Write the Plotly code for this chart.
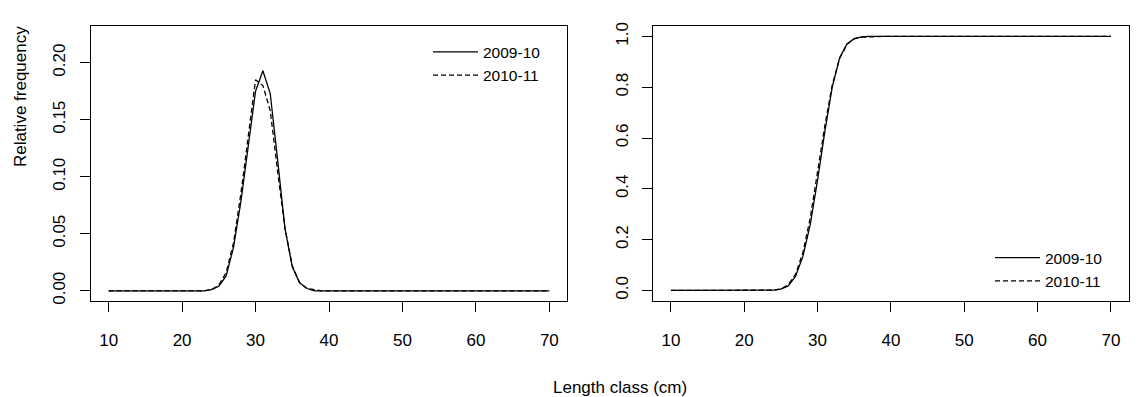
import plotly.graph_objects as go

# ---------------- data ----------------
lengths = list(range(10, 71))

freq_2009_10 = [
    0, 0, 0, 0, 0, 0, 0, 0, 0, 0, 0, 0, 0, 0,          # 10-23
    0.001, 0.004, 0.013, 0.038, 0.078, 0.125, 0.175,    # 24-30
    0.193, 0.173, 0.115, 0.055, 0.021, 0.007, 0.002,    # 31-37
    0, 0, 0, 0, 0, 0, 0, 0, 0, 0, 0, 0, 0, 0, 0, 0,    # 38-53
    0, 0, 0, 0, 0, 0, 0, 0, 0, 0, 0, 0, 0, 0, 0, 0, 0, # 54-70
]
freq_2010_11 = [
    0, 0, 0, 0, 0, 0, 0, 0, 0, 0, 0, 0, 0, 0,          # 10-23
    0.001, 0.005, 0.016, 0.042, 0.085, 0.136, 0.185,    # 24-30
    0.180, 0.158, 0.105, 0.055, 0.022, 0.007, 0.002,    # 31-37
    0.001, 0, 0, 0, 0, 0, 0, 0, 0, 0, 0, 0, 0, 0, 0, 0,  # 38-53
    0, 0, 0, 0, 0, 0, 0, 0, 0, 0, 0, 0, 0, 0, 0, 0, 0,   # 54-70
]
cum_2009_10 = [
    0, 0, 0, 0, 0, 0, 0, 0, 0, 0, 0, 0, 0, 0,          # 10-23
    0.001, 0.005, 0.018, 0.056, 0.134, 0.259, 0.434,    # 24-30
    0.627, 0.800, 0.915, 0.970, 0.991, 0.998, 1.0,      # 31-37
    1, 1, 1, 1, 1, 1, 1, 1, 1, 1, 1, 1, 1, 1, 1, 1,    # 38-53
    1, 1, 1, 1, 1, 1, 1, 1, 1, 1, 1, 1, 1, 1, 1, 1, 1, # 54-70
]
cum_2010_11 = [
    0, 0, 0, 0, 0, 0, 0, 0, 0, 0, 0, 0, 0, 0,          # 10-23
    0.001, 0.006, 0.022, 0.064, 0.149, 0.285, 0.470,    # 24-30
    0.650, 0.808, 0.913, 0.968, 0.990, 0.997, 0.999,    # 31-37
    1, 1, 1, 1, 1, 1, 1, 1, 1, 1, 1, 1, 1, 1, 1, 1,    # 38-53
    1, 1, 1, 1, 1, 1, 1, 1, 1, 1, 1, 1, 1, 1, 1, 1, 1, # 54-70
]
series_names = ["2009-10", "2010-11"]
x_ticks = [10, 20, 30, 40, 50, 60, 70]
y1_ticks = [0.0, 0.05, 0.10, 0.15, 0.20]
y1_labels = ["0.00", "0.05", "0.10", "0.15", "0.20"]
y2_ticks = [0.0, 0.2, 0.4, 0.6, 0.8, 1.0]
y2_labels = ["0.0", "0.2", "0.4", "0.6", "0.8", "1.0"]

# ---------------- figure ----------------
W, H = 1139, 397
FONT = "Liberation Sans, Arial, sans-serif"
TICK_SIZE = 17
LEG_SIZE = 15.5
DASH = "5px,3px"
LW = 1.3

fig = go.Figure()

fig.add_trace(go.Scatter(x=lengths, y=freq_2009_10, mode="lines", name=series_names[0],
                         line=dict(color="black", width=LW), xaxis="x", yaxis="y", legend="legend"))
fig.add_trace(go.Scatter(x=lengths, y=freq_2010_11, mode="lines", name=series_names[1],
                         line=dict(color="black", width=LW, dash=DASH), xaxis="x", yaxis="y", legend="legend"))
fig.add_trace(go.Scatter(x=lengths, y=cum_2009_10, mode="lines", name=series_names[0],
                         line=dict(color="black", width=LW), xaxis="x2", yaxis="y2", legend="legend2"))
fig.add_trace(go.Scatter(x=lengths, y=cum_2010_11, mode="lines", name=series_names[1],
                         line=dict(color="black", width=LW, dash=DASH), xaxis="x2", yaxis="y2", legend="legend2"))

ydom = [(H - 302.7) / H, (H - 22.7) / H]

axis_common = dict(showgrid=False, zeroline=False, showline=True, mirror=True,
                   linecolor="black", linewidth=1, ticks="outside", ticklen=10,
                   tickcolor="black", tickwidth=1,
                   tickfont=dict(family=FONT, size=TICK_SIZE, color="black"))

fig.update_layout(
    width=W, height=H,
    margin=dict(l=0, r=0, t=0, b=0),
    paper_bgcolor="white", plot_bgcolor="white",
    font=dict(family=FONT, color="black"),
    xaxis=dict(domain=[91 / W, 567 / W], range=[7.6, 72.4], tickvals=x_ticks,
               anchor="y", ticklabelstandoff=14, **axis_common),
    yaxis=dict(domain=ydom, range=[-0.0086, 0.232], tickvals=y1_ticks, ticktext=y1_labels,
               tickangle=-90, anchor="x", ticklabelstandoff=8, **axis_common),
    xaxis2=dict(domain=[653.3 / W, 1128.5 / W], range=[7.6, 72.4], tickvals=x_ticks,
                anchor="y2", ticklabelstandoff=14, **axis_common),
    yaxis2=dict(domain=ydom, range=[-0.04, 1.04], tickvals=y2_ticks, ticktext=y2_labels,
                tickangle=-90, anchor="x2", ticklabelstandoff=8, **axis_common),
    legend=dict(x=428 / W, xanchor="left", y=1 - 32 / H, yanchor="top",
                bgcolor="rgba(0,0,0,0)", itemwidth=45, tracegroupgap=0,
                font=dict(family=FONT, size=LEG_SIZE, color="black")),
    legend2=dict(x=990 / W, xanchor="left", y=1 - 242 / H, yanchor="top",
                 bgcolor="rgba(0,0,0,0)", itemwidth=45, tracegroupgap=0,
                 font=dict(family=FONT, size=LEG_SIZE, color="black")),
    showlegend=True,
    annotations=[
        dict(text="Relative frequency", textangle=-90, x=20 / W, y=1 - 95 / H,
             xref="paper", yref="paper", xanchor="center", yanchor="middle",
             showarrow=False, font=dict(family=FONT, size=TICK_SIZE, color="black")),
        dict(text="Length class (cm)", x=620 / W, y=1 - 391 / H,
             xref="paper", yref="paper", xanchor="center", yanchor="middle",
             showarrow=False, font=dict(family=FONT, size=TICK_SIZE, color="black")),
    ],
)

fig.write_html("out.html")
